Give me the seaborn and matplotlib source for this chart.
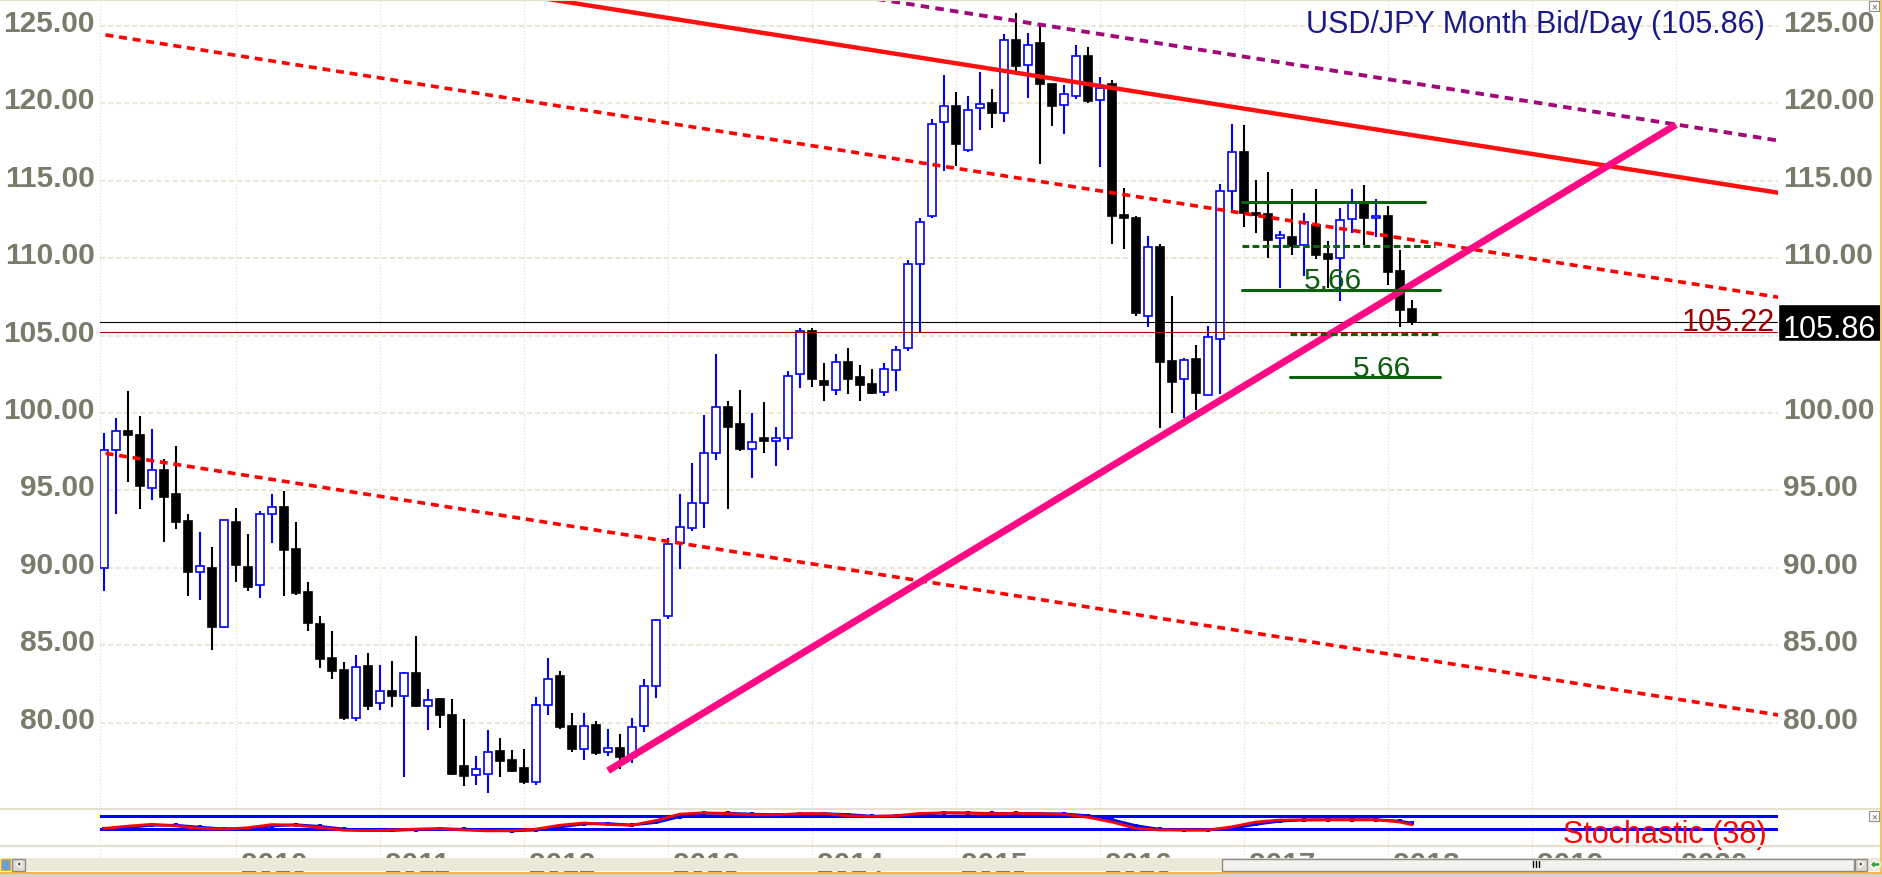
import numpy as np
import pandas as pd
import matplotlib
matplotlib.use("Agg")
import matplotlib.pyplot as plt
import matplotlib.transforms as mtransforms
from matplotlib.lines import Line2D
from matplotlib.patches import Rectangle, Polygon
import seaborn as sns

# monthly bars, month 1 = Feb 2009 ... month 110 = Mar 2018 (months counted from Jan 2009)
opens = [89.96, 97.60, 98.86, 98.60, 95.14, 96.33, 94.77, 93.00, 89.74, 90.00,
         86.20, 92.98, 90.06, 88.88, 93.46, 93.95, 91.20, 88.44, 86.35, 84.17,
         83.43, 80.30, 83.65, 81.30, 82.07, 81.75, 83.20, 81.10, 81.50, 80.47,
         77.18, 76.60, 76.70, 78.15, 77.56, 77.07, 76.16, 81.16, 83.00, 79.76,
         78.30, 79.85, 78.10, 78.34, 77.80, 79.80, 82.40, 86.90, 91.60, 92.60,
         94.20, 97.40, 100.40, 99.30, 97.70, 98.40, 98.20, 98.40, 102.50, 105.30,
         102.10, 101.50, 103.30, 102.30, 101.90, 101.35, 102.80, 104.20, 109.60, 112.70,
         118.80, 119.80, 117.00, 119.68, 120.00, 119.36, 124.08, 122.47, 123.90, 121.24,
         119.89, 120.47, 123.07, 120.21, 121.22, 112.80, 112.58, 106.28, 110.75, 103.33,
         102.20, 103.48, 101.18, 104.80, 114.34, 116.84, 112.90, 112.84, 111.33, 111.40,
         110.82, 112.15, 110.28, 110.00, 112.52, 113.60, 112.58, 112.75, 109.18, 106.73]
highs = [98.70, 99.70, 101.45, 99.80, 98.95, 97.00, 97.84, 93.46, 92.33, 91.36,
         93.10, 93.84, 92.16, 93.70, 94.80, 94.99, 92.94, 89.10, 86.90, 85.90,
         83.95, 84.40, 84.50, 83.70, 84.00, 83.30, 85.57, 82.20, 81.60, 81.55,
         80.26, 77.84, 79.55, 79.00, 78.25, 78.30, 81.66, 84.20, 83.34, 80.65,
         80.60, 80.10, 79.60, 79.24, 80.30, 82.80, 86.70, 91.90, 94.80, 96.80,
         99.90, 103.80, 100.80, 101.50, 100.00, 100.70, 99.08, 102.70, 105.50, 105.50,
         103.20, 103.80, 104.20, 103.10, 102.84, 103.20, 104.30, 109.90, 112.60, 119.00,
         121.80, 120.75, 120.50, 122.04, 120.90, 124.50, 125.86, 124.57, 125.20, 121.24,
         121.18, 123.80, 123.65, 121.70, 121.50, 114.56, 112.70, 111.46, 110.90, 107.53,
         103.55, 104.40, 105.60, 114.80, 118.66, 118.60, 115.05, 115.55, 111.78, 114.45,
         112.95, 114.47, 111.08, 113.27, 114.50, 114.73, 113.80, 113.40, 110.50, 107.29]
lows = [88.50, 93.50, 95.57, 93.80, 94.40, 91.70, 92.50, 88.16, 87.90, 84.70,
        86.10, 89.10, 88.50, 88.08, 91.60, 88.19, 88.27, 85.90, 83.50, 82.80,
        80.20, 80.10, 80.80, 80.80, 81.00, 76.50, 81.00, 79.50, 79.66, 76.60,
        75.88, 76.00, 75.47, 76.50, 76.80, 76.06, 76.00, 80.47, 79.60, 78.10,
        77.56, 77.90, 77.84, 77.00, 77.40, 79.40, 81.60, 86.70, 89.90, 92.40,
        92.60, 96.98, 93.80, 97.56, 95.80, 97.40, 96.55, 97.60, 101.60, 101.70,
        100.80, 101.14, 101.20, 100.80, 101.20, 101.08, 101.45, 104.00, 105.20, 112.60,
        115.60, 115.97, 116.85, 118.30, 118.40, 118.80, 122.00, 120.36, 116.10, 118.56,
        118.03, 120.30, 120.00, 115.92, 110.94, 110.60, 106.24, 105.53, 99.03, 100.00,
        99.68, 100.20, 101.18, 101.20, 113.10, 112.04, 111.60, 110.04, 108.06, 110.20,
        108.82, 109.94, 108.06, 107.25, 111.60, 110.86, 111.40, 108.24, 105.53, 105.70]
closes = [97.60, 98.86, 98.55, 95.30, 96.33, 94.60, 92.98, 89.74, 90.10, 86.20,
          93.10, 90.17, 88.77, 93.46, 93.90, 91.14, 88.38, 86.44, 84.13, 83.37,
          80.30, 83.60, 81.10, 82.07, 81.75, 83.20, 81.10, 81.47, 80.47, 76.66,
          76.55, 77.03, 78.10, 77.50, 76.90, 76.16, 81.16, 82.84, 79.72, 78.28,
          79.80, 78.06, 78.34, 77.80, 79.70, 82.40, 86.60, 91.55, 92.63, 94.20,
          97.40, 100.40, 99.10, 97.70, 98.10, 98.20, 98.40, 102.40, 105.30, 102.20,
          101.80, 103.30, 102.20, 101.80, 101.30, 102.85, 104.10, 109.60, 112.35, 118.65,
          119.80, 117.40, 119.60, 119.98, 119.36, 124.12, 122.40, 123.80, 121.22, 119.85,
          120.58, 123.07, 120.17, 120.97, 112.75, 112.58, 106.45, 110.70, 103.27, 102.00,
          103.44, 101.29, 104.88, 114.34, 116.84, 112.90, 112.80, 111.18, 111.50, 110.80,
          112.32, 110.20, 109.94, 112.47, 113.66, 112.58, 112.69, 109.14, 106.67, 105.86]

years = list(range(2010, 2021))
price_ticks = [80, 85, 90, 95, 100, 105, 110, 115, 120, 125]
last_price = 105.86
low_mark = 105.22
title = "USD/JPY Month Bid/Day (105.86)"

# hand drawn lines: month (from Jan 2009) and price at both ends
channel_top_m = [0, 141]
channel_top_p = [124.56, 107.42]
channel_mid_m = [0, 141]
channel_mid_p = [97.53, 80.44]
resist_m = [36, 141]
resist_p = [126.98, 114.17]
outer_m = [65, 141]
outer_p = [126.79, 117.54]
support_m = [43, 132]
support_p = [76.90, 118.62]

# measured move levels (green)
level_prices = [113.63, 110.76, 107.92, 105.12, 102.32]
level_from = [95.8, 95.8, 95.8, 99.8, 99.8]
level_to = [111.1, 111.9, 112.3, 112.3, 112.3]
move_text = ["5.66", "5.66"]
move_m = [103.4, 107.5]
move_p = [108.07, 102.39]

# stochastic (38) panel
stoch_m = [1, 3, 5, 7, 9, 11, 13, 15, 17, 19, 21, 23, 25, 27, 29, 31, 33, 35, 37, 39,
           41, 43, 45, 47, 49, 51, 53, 55, 57, 59, 61, 63, 65, 67, 69, 71, 73, 75, 77, 79,
           81, 83, 85, 87, 89, 91, 93, 95, 97, 99, 101, 103, 105, 107, 109, 110]
stoch_red = [24, 34, 42, 35, 24, 21, 27, 41, 38, 28, 16, 14, 17, 21, 23, 17, 13, 14, 21, 38,
             48, 41, 38, 59, 87, 93, 89, 84, 84, 89, 89, 80, 76, 80, 90, 93, 91, 89, 90, 89,
             86, 73, 52, 24, 17, 17, 17, 31, 52, 61, 62, 62, 62, 62, 52, 40]
stoch_blue = [22, 28, 38, 38, 29, 22, 23, 35, 40, 33, 21, 15, 15, 19, 22, 20, 15, 13, 17, 30,
              44, 45, 39, 50, 76, 90, 91, 87, 84, 87, 89, 85, 78, 78, 86, 92, 92, 90, 90, 89,
              88, 80, 62, 36, 20, 17, 17, 24, 42, 56, 61, 62, 62, 62, 56, 47]

df = pd.DataFrame({"m": np.arange(1, len(closes) + 1), "open": opens, "high": highs,
                   "low": lows, "close": closes})

sns.set_style("white")
plt.rcParams["font.family"] = ["Liberation Sans", "DejaVu Sans"]

W, H = 1882, 878
fig = plt.figure(figsize=(W / 100, H / 100), dpi=100)
fig.patch.set_facecolor("white")


def box(x0, y0, x1, y1):
    return [x0 / W, 1 - y1 / H, (x1 - x0) / W, (y1 - y0) / H]


def px_rect(x0, y0, x1, y1, **kw):
    r = Rectangle((x0 / W, 1 - y1 / H), (x1 - x0) / W, (y1 - y0) / H,
                  transform=fig.transFigure, **kw)
    fig.add_artist(r)
    return r


def px_line(xs, ys, **kw):
    fig.add_artist(Line2D([x / W for x in xs], [1 - y / H for y in ys],
                          transform=fig.transFigure, **kw))


ax = fig.add_axes(box(100, 0, 1778, 809))
sax = fig.add_axes(box(100, 810, 1778, 847))
for a in (ax, sax):
    a.set_xlim(0.667, 140.5)
    a.axis("off")
ax.set_ylim(74.49, 126.74)
sax.set_ylim(-53.6, 109.5)

blue = "#0000ff"
grid_c = "#ebe7d5"
lbl_kw = dict(fontsize=21.5, fontweight="bold", color="#7b7b6b")

# grid
for p in price_ticks:
    ax.axhline(p, color=grid_c, lw=1.45, dashes=(2.5, 1.5), zorder=0)
vt = mtransforms.blended_transform_factory(ax.transData, fig.transFigure)
for yr in years:
    mm = 12 * (yr - 2009)
    fig.add_artist(Line2D([mm, mm], [1 - 859 / H, 1], transform=vt, color="#e0dcc6",
                          lw=0.8, ls=(0, (1, 2)), zorder=-1))
px_line([100, 100], [0, 859], color="#e0dcc6", lw=0.8, ls=(0, (1, 2)), zorder=-1)

# candles
up = df["close"] >= df["open"]
bottom = np.minimum(df["open"], df["close"])
height = np.maximum((df["close"] - df["open"]).abs(), 0.12)
ax.vlines(df["m"][up], df["low"][up], df["high"][up], color=blue, lw=1.5, zorder=3)
ax.vlines(df["m"][~up], df["low"][~up], df["high"][~up], color="black", lw=1.5, zorder=3)
ax.bar(df["m"][up], height[up], bottom=bottom[up], width=0.7, facecolor="white",
       edgecolor=blue, lw=1.2, zorder=4)
ax.bar(df["m"][~up], height[~up], bottom=bottom[~up], width=0.7, facecolor="black",
       edgecolor="black", lw=1.2, zorder=4)

# price lines
ax.axhline(last_price, color="black", lw=0.8, zorder=5)
ax.axhline(low_mark, color="#b40000", lw=0.8, zorder=5)

# trend lines
ax.plot(channel_top_m, channel_top_p, color="#ff0000", lw=2.6, dashes=(2.2, 1.6), zorder=5)
ax.plot(channel_mid_m, channel_mid_p, color="#ff0000", lw=2.6, dashes=(2.2, 1.6), zorder=5)
ax.plot(resist_m, resist_p, color="#ff1010", lw=3.2, zorder=5, solid_capstyle="butt")
ax.plot(outer_m, outer_p, color="#a0087a", lw=2.8, dashes=(2.2, 1.6), zorder=5)
ax.plot(support_m, support_p, color="#ff0a84", lw=5, zorder=6, solid_capstyle="butt")

for i, (p, a0, a1) in enumerate(zip(level_prices, level_from, level_to)):
    ls = "-" if i % 2 == 0 else (0, (2.2, 1.1))
    ax.plot([a0, a1], [p, p], color="#0b610b", lw=2.2, ls=ls, zorder=6)
for t, mm, p in zip(move_text, move_m, move_p):
    ax.text(mm, p, t, ha="center", va="baseline", color="#0b5d0b", fontsize=21.5, zorder=7)

# axis labels (the right 105.00 label sits under the last-price box)
yt = mtransforms.blended_transform_factory(ax.transAxes, ax.transData)
left_t = mtransforms.offset_copy(yt, fig=fig, x=-5, y=-5, units="dots")
right_t = mtransforms.offset_copy(yt, fig=fig, x=5, y=-5, units="dots")
for p in price_ticks:
    ax.text(0, p, f"{p:.2f}", transform=left_t, ha="right", va="baseline", **lbl_kw)
    if abs(p - last_price) > 2:
        ax.text(1, p, f"{p:.2f}", transform=right_t, ha="left", va="baseline", **lbl_kw)

ax.add_patch(Rectangle((1.0, last_price - 1.2), 103 / 1678, 2.39, transform=yt,
                       facecolor="black", clip_on=False, zorder=10))
ax.text(1.0 + 51.5 / 1678, 104.89, f"{last_price:.2f}", transform=yt, ha="center",
        va="baseline", color="white", fontsize=22, zorder=11)
ax.text(0.9982, 105.33, f"{low_mark:.2f}", transform=yt, ha="right", va="baseline",
        color="#a00000", fontsize=22, zorder=7)
ax.text(0.99225, 124.59, title, transform=yt, ha="right", va="baseline",
        color="#1a1a8a", fontsize=22, zorder=7)

# stochastic panel
sax.axhline(20, color=blue, lw=2.2, zorder=1)
sax.axhline(80, color=blue, lw=2.2, zorder=1)
sns.lineplot(x=stoch_m, y=stoch_blue, ax=sax, color=blue, lw=2.0, marker="s",
             markersize=3.5, markeredgewidth=0, zorder=2)
sns.lineplot(x=stoch_m, y=stoch_red, ax=sax, color="#ff0000", lw=2.0, zorder=3)
st = mtransforms.blended_transform_factory(sax.transAxes, sax.transData)
sax.text(0.9934, -37.3, "Stochastic (38)", transform=st, ha="right", va="baseline",
         color="#ff0000", fontsize=22, zorder=4)

# panel separators and frame
px_line([0, 1880], [0.5, 0.5], color="#e4e0cc", lw=1.5, zorder=1)
px_line([0, 1880], [809.5, 809.5], color="#e4e0cc", lw=1.5, zorder=1)
px_line([0, 1880], [847, 847], color="#e4e0cc", lw=1.5, zorder=1)

# year labels (partly hidden by the scroll bar)
yl_t = mtransforms.offset_copy(vt, fig=fig, x=4.7, y=0, units="dots")
for yr in years:
    ax.text(12 * (yr - 2009), 1 - 851 / H, str(yr), transform=yl_t, ha="left", va="top",
            clip_on=False, **lbl_kw)

# scroll bar and window chrome
px_rect(0, 858.7, 1880, 872, facecolor="#ece9d8", edgecolor="none", zorder=20)
px_rect(1222, 859.5, 1854, 871.5, facecolor="#f3f2ec", edgecolor="#8c8c8c", lw=1, zorder=21)
for gx in (1533, 1536, 1539):
    px_line([gx, gx], [862, 868], color="black", lw=1, zorder=22)
px_rect(1855, 859.5, 1867, 871.5, facecolor="#dcdad0", edgecolor="#8c8c8c", lw=1, zorder=21)
fig.add_artist(Polygon([(1859 / W, 1 - 862 / H), (1859 / W, 1 - 868 / H), (1864 / W, 1 - 865 / H)],
                       transform=fig.transFigure, facecolor="#303030", zorder=22))
fig.add_artist(Polygon([(1870 / W, 1 - 865.5 / H), (1875 / W, 1 - 860.5 / H), (1875 / W, 1 - 863.5 / H),
                        (1880 / W, 1 - 863.5 / H), (1880 / W, 1 - 867.5 / H), (1875 / W, 1 - 867.5 / H),
                        (1875 / W, 1 - 870.5 / H)],
                       transform=fig.transFigure, facecolor="#3c9c3c", zorder=22))
px_rect(12, 859.5, 25, 871.5, facecolor="#dcdad0", edgecolor="#8c8c8c", lw=1, zorder=21)
fig.add_artist(Polygon([(21 / W, 1 - 862 / H), (21 / W, 1 - 868 / H), (16 / W, 1 - 865 / H)],
                       transform=fig.transFigure, facecolor="#303030", zorder=22))
px_rect(1, 860, 10, 871, facecolor="#6aa0d8", edgecolor="#e0b020", lw=1, zorder=21)
px_rect(0, 872.5, 1882, 874.5, facecolor="#f2b84b", edgecolor="none", zorder=20)
px_rect(0, 874.5, 1882, 878, facecolor="#d8d4cc", edgecolor="none", zorder=20)
px_rect(1880, 0, 1882, 872.5, facecolor="#efc56c", edgecolor="none", zorder=20)
for by in (2, 812):
    px_rect(1869, by, 1879, by + 10, facecolor="white", edgecolor="#909090", lw=0.8, zorder=21)
    fig.text(1874 / W, 1 - (by + 5) / H, "×", ha="center", va="center", fontsize=7,
             color="#606060", zorder=22)

fig.savefig("out.png", dpi=100)
